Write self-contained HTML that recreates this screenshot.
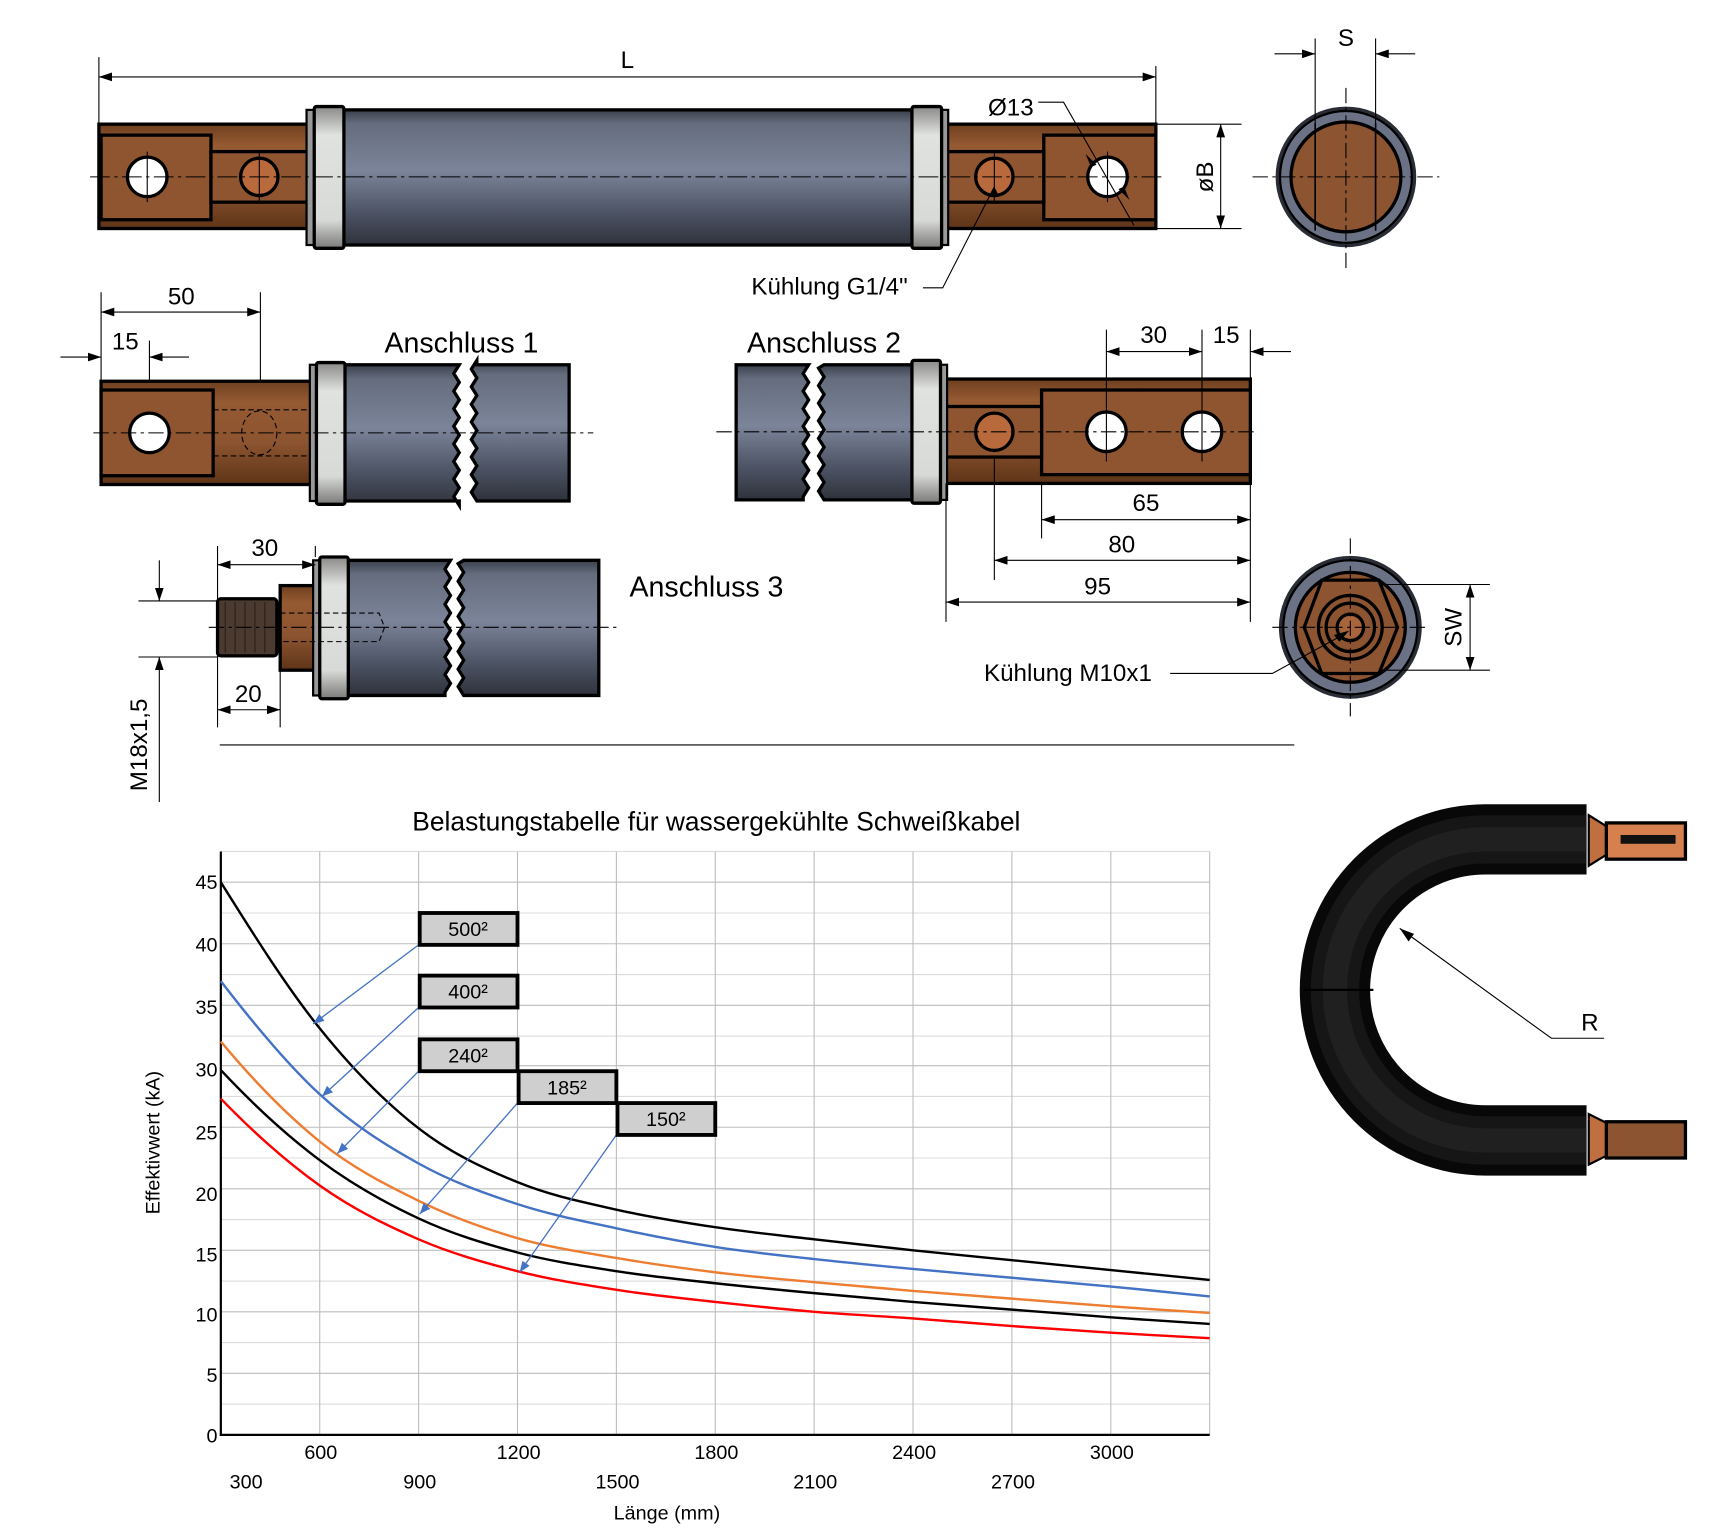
<!DOCTYPE html>
<html><head><meta charset="utf-8"><style>
html,body{margin:0;padding:0;background:#fff;}
svg{display:block;}
text{font-family:"Liberation Sans",sans-serif;}
</style></head><body>
<svg width="1714" height="1531" viewBox="0 0 1560 1393.5" preserveAspectRatio="none" xmlns="http://www.w3.org/2000/svg">
<defs>
<linearGradient id="tube" x1="0" y1="0" x2="0" y2="1">
<stop offset="0" stop-color="#3a3f4a"/><stop offset="0.1" stop-color="#646c7d"/><stop offset="0.45" stop-color="#7c849a"/><stop offset="0.75" stop-color="#4e5566"/><stop offset="1" stop-color="#2e323b"/></linearGradient>
<linearGradient id="cu" x1="0" y1="0" x2="0" y2="1">
<stop offset="0" stop-color="#6e3f1f"/><stop offset="0.2" stop-color="#955a32"/><stop offset="0.6" stop-color="#8c5430"/><stop offset="1" stop-color="#5e3418"/></linearGradient>
<linearGradient id="fer" x1="0" y1="0" x2="0" y2="1">
<stop offset="0" stop-color="#8a8a88"/><stop offset="0.2" stop-color="#e0e2e0"/><stop offset="0.8" stop-color="#d8dad8"/><stop offset="1" stop-color="#7a7a78"/></linearGradient>
<marker id="ar" viewBox="0 0 12 8" refX="12" refY="4" markerWidth="12" markerHeight="8" orient="auto-start-reverse" markerUnits="userSpaceOnUse"><path d="M0,0L12,4L0,8z" fill="#000"/></marker>
<marker id="ab" viewBox="0 0 10 8" refX="10" refY="4" markerWidth="10" markerHeight="8" orient="auto" markerUnits="userSpaceOnUse"><path d="M0,0L10,4L0,8z" fill="#4472c4"/></marker>
</defs>

<!-- ===== Top full cable ===== -->
<g stroke="#000" stroke-width="1">
<line x1="90" y1="52" x2="90" y2="113"/><line x1="1052" y1="60" x2="1052" y2="113"/>
<line x1="90" y1="70" x2="1052" y2="70" marker-start="url(#ar)" marker-end="url(#ar)"/>
</g>
<text x="571" y="62" font-size="22" text-anchor="middle">L</text>
<rect x="90" y="113" width="192" height="95" fill="url(#cu)" stroke="#000" stroke-width="3"/>
<rect x="92" y="123" width="100" height="77" fill="#8f5531" stroke="#000" stroke-width="3"/>
<rect x="192" y="138" width="90" height="46" fill="#8f5531" stroke="#000" stroke-width="3"/>
<circle cx="134" cy="161" r="18" fill="#fff" stroke="#000" stroke-width="3"/>
<circle cx="236" cy="161" r="17" fill="#b86a3c" stroke="#000" stroke-width="3"/>
<rect x="860" y="113" width="192" height="95" fill="url(#cu)" stroke="#000" stroke-width="3"/>
<rect x="950" y="123" width="102" height="77" fill="#8f5531" stroke="#000" stroke-width="3"/>
<rect x="860" y="138" width="90" height="46" fill="#8f5531" stroke="#000" stroke-width="3"/>
<circle cx="1008" cy="161" r="18" fill="#fff" stroke="#000" stroke-width="3"/>
<circle cx="905" cy="161" r="17" fill="#b86a3c" stroke="#000" stroke-width="3"/>
<rect x="310" y="100" width="522" height="123" fill="url(#tube)" stroke="#000" stroke-width="3"/>
<rect x="279" y="100" width="8" height="123" fill="#999" stroke="#000" stroke-width="2"/>
<rect x="286" y="97" width="27" height="129" rx="2" fill="url(#fer)" stroke="#000" stroke-width="3"/>
<rect x="855" y="100" width="8" height="123" fill="#999" stroke="#000" stroke-width="2"/>
<rect x="830" y="97" width="27" height="129" rx="2" fill="url(#fer)" stroke="#000" stroke-width="3"/>
<g stroke="#000" stroke-width="1" stroke-dasharray="18,4,3,4">
<line x1="82" y1="161" x2="1060" y2="161"/>
</g>
<g stroke="#000" stroke-width="1">
<line x1="134" y1="138" x2="134" y2="184"/><line x1="236" y1="138" x2="236" y2="184"/>
<line x1="905" y1="138" x2="905" y2="184"/><line x1="1008" y1="138" x2="1008" y2="184"/>
<polyline points="945,93 968,93 1032,205" fill="none"/>
<polyline points="840,262 858,262 905,170" fill="none"/>
</g>
<path d="M988,140 L998,150 L993,152z M1028,182 L1018,172 L1023,170z M905,170 l-6,10 l9,-4z" fill="#000"/>
<text x="920" y="105" font-size="22" text-anchor="middle">Ø13</text>
<text x="755" y="268" font-size="22" text-anchor="middle">Kühlung G1/4"</text>
<g stroke="#000" stroke-width="1">
<line x1="1052" y1="113" x2="1130" y2="113"/><line x1="1052" y1="208" x2="1130" y2="208"/>
<line x1="1111" y1="113" x2="1111" y2="208" marker-start="url(#ar)" marker-end="url(#ar)"/>
</g>
<text x="1104" y="161" font-size="22" text-anchor="middle" transform="rotate(-90 1104 161)">øB</text>
<circle cx="1225" cy="161" r="64" fill="#2a2d35"/>
<circle cx="1225" cy="161" r="60" fill="#6b7286" stroke="#000" stroke-width="2"/>
<circle cx="1225" cy="161" r="50" fill="#8c5430" stroke="#000" stroke-width="3"/>
<g stroke="#000" stroke-width="1.5"><line x1="1197" y1="112" x2="1197" y2="210"/><line x1="1252" y1="112" x2="1252" y2="210"/></g>
<g stroke="#000" stroke-width="1" stroke-dasharray="14,4,3,4"><line x1="1140" y1="161" x2="1310" y2="161"/><line x1="1225" y1="80" x2="1225" y2="245"/></g>
<g stroke="#000" stroke-width="1">
<line x1="1197" y1="35" x2="1197" y2="112"/><line x1="1252" y1="35" x2="1252" y2="112"/>
<line x1="1160" y1="49" x2="1197" y2="49" marker-end="url(#ar)"/><line x1="1288" y1="49" x2="1252" y2="49" marker-end="url(#ar)"/>
</g>
<text x="1225" y="42" font-size="22" text-anchor="middle">S</text>

<!-- ===== Anschluss 1 ===== -->
<g stroke="#000" stroke-width="1">
<line x1="92" y1="266" x2="92" y2="347"/><line x1="237" y1="266" x2="237" y2="420"/><line x1="136" y1="310" x2="136" y2="420"/>
<line x1="92" y1="284" x2="237" y2="284" marker-start="url(#ar)" marker-end="url(#ar)"/>
<line x1="55" y1="325" x2="92" y2="325" marker-end="url(#ar)"/><line x1="172" y1="325" x2="136" y2="325" marker-end="url(#ar)"/>
</g>
<text x="165" y="277" font-size="22" text-anchor="middle">50</text>
<text x="114" y="318" font-size="22" text-anchor="middle">15</text>
<text x="420" y="321" font-size="26" text-anchor="middle">Anschluss 1</text>
<rect x="92" y="347" width="192" height="94" fill="url(#cu)" stroke="#000" stroke-width="3"/>
<rect x="92" y="355" width="102" height="78" fill="#8f5531" stroke="#000" stroke-width="3"/>
<circle cx="136" cy="394" r="18" fill="#fff" stroke="#000" stroke-width="3"/>
<g stroke="#000" stroke-width="1" stroke-dasharray="5,3" fill="none"><line x1="194" y1="373" x2="284" y2="373"/><line x1="194" y1="415" x2="284" y2="415"/><ellipse cx="236" cy="394" rx="16" ry="20"/></g>
<path d="M312,332 H418 l-5,8 5,8 -5,8 5,8 -5,8 5,8 -5,8 5,8 -5,8 5,8 -5,8 5,8 -5,8 5,8 -5,8 5,8 V456 H312z" fill="url(#tube)" stroke="#000" stroke-width="3"/>
<path d="M434,332 H518 V456 H434 l-5,-8 5,-8 -5,-8 5,-8 -5,-8 5,-8 -5,-8 5,-8 -5,-8 5,-8 -5,-8 5,-8 -5,-8 5,-8 -5,-8 5,-8z" fill="url(#tube)" stroke="#000" stroke-width="3"/>
<rect x="282" y="332" width="8" height="124" fill="#999" stroke="#000" stroke-width="2"/>
<rect x="288" y="330" width="26" height="129" rx="2" fill="url(#fer)" stroke="#000" stroke-width="3"/>
<g stroke="#000" stroke-width="1" stroke-dasharray="14,4,3,4"><line x1="85" y1="394" x2="540" y2="394"/></g>

<!-- ===== Anschluss 2 ===== -->
<text x="750" y="321" font-size="26" text-anchor="middle">Anschluss 2</text>
<path d="M670,332 H736 l-5,8 5,8 -5,8 5,8 -5,8 5,8 -5,8 5,8 -5,8 5,8 -5,8 5,8 -5,8 5,8 -5,8 V455 H670z" fill="url(#tube)" stroke="#000" stroke-width="3"/>
<path d="M750,332 H832 V455 H750 l-5,-8 5,-8 -5,-8 5,-8 -5,-8 5,-8 -5,-8 5,-8 -5,-8 5,-8 -5,-8 5,-8 -5,-8 5,-8 -5,-8 z" fill="url(#tube)" stroke="#000" stroke-width="3"/>
<rect x="860" y="345" width="278" height="95" fill="url(#cu)" stroke="#000" stroke-width="3"/>
<rect x="948" y="355" width="190" height="77" fill="#8f5531" stroke="#000" stroke-width="3"/>
<rect x="860" y="370" width="88" height="46" fill="#8f5531" stroke="#000" stroke-width="3"/>
<circle cx="1007" cy="393" r="18" fill="#fff" stroke="#000" stroke-width="3"/>
<circle cx="1094" cy="393" r="18" fill="#fff" stroke="#000" stroke-width="3"/>
<circle cx="905" cy="393" r="17" fill="#b86a3c" stroke="#000" stroke-width="3"/>
<rect x="854" y="332" width="8" height="123" fill="#999" stroke="#000" stroke-width="2"/>
<rect x="830" y="328" width="26" height="130" rx="2" fill="url(#fer)" stroke="#000" stroke-width="3"/>
<g stroke="#000" stroke-width="1" stroke-dasharray="14,4,3,4"><line x1="652" y1="393" x2="1145" y2="393"/></g>
<g stroke="#000" stroke-width="1">
<line x1="1007" y1="300" x2="1007" y2="420"/><line x1="1094" y1="300" x2="1094" y2="420"/><line x1="1138" y1="300" x2="1138" y2="345"/>
<line x1="1007" y1="320" x2="1094" y2="320" marker-start="url(#ar)" marker-end="url(#ar)"/>
<line x1="1175" y1="320" x2="1138" y2="320" marker-end="url(#ar)"/>
<line x1="948" y1="440" x2="948" y2="490"/><line x1="905" y1="415" x2="905" y2="528"/><line x1="861" y1="440" x2="861" y2="566"/><line x1="1138" y1="440" x2="1138" y2="566"/>
<line x1="948" y1="473" x2="1138" y2="473" marker-start="url(#ar)" marker-end="url(#ar)"/>
<line x1="905" y1="510" x2="1138" y2="510" marker-start="url(#ar)" marker-end="url(#ar)"/>
<line x1="861" y1="548" x2="1138" y2="548" marker-start="url(#ar)" marker-end="url(#ar)"/>
</g>
<text x="1050" y="312" font-size="22" text-anchor="middle">30</text>
<text x="1116" y="312" font-size="22" text-anchor="middle">15</text>
<text x="1043" y="465" font-size="22" text-anchor="middle">65</text>
<text x="1021" y="503" font-size="22" text-anchor="middle">80</text>
<text x="999" y="541" font-size="22" text-anchor="middle">95</text>

<circle cx="1229" cy="571" r="65" fill="#2a2d35"/>
<circle cx="1229" cy="571" r="61" fill="#6b7286" stroke="#000" stroke-width="2"/>
<circle cx="1229" cy="571" r="50" fill="#8c5430" stroke="#000" stroke-width="3"/>
<polygon points="1187,571 1203,528 1255,528 1272,571 1255,613 1203,613" fill="#8c5430" stroke="#000" stroke-width="3"/>
<circle cx="1229" cy="571" r="29" fill="none" stroke="#000" stroke-width="3"/>
<circle cx="1229" cy="571" r="22" fill="none" stroke="#000" stroke-width="3"/>
<circle cx="1229" cy="571" r="12" fill="#a8643a" stroke="#000" stroke-width="3"/>
<g stroke="#000" stroke-width="1" stroke-dasharray="14,4,3,4"><line x1="1158" y1="571" x2="1300" y2="571"/><line x1="1229" y1="490" x2="1229" y2="652"/></g>
<g stroke="#000" stroke-width="1">
<line x1="1255" y1="532" x2="1356" y2="532"/><line x1="1255" y1="610" x2="1356" y2="610"/>
<line x1="1338" y1="532" x2="1338" y2="610" marker-start="url(#ar)" marker-end="url(#ar)"/>
<polyline points="1065,613 1158,613 1222,578" fill="none"/>
</g>
<path d="M1228,574 l-14,4 l5,6z" fill="#000"/>
<text x="1330" y="571" font-size="22" text-anchor="middle" transform="rotate(-90 1330 571)">SW</text>
<text x="972" y="620" font-size="22" text-anchor="middle">Kühlung M10x1</text>

<!-- ===== Anschluss 3 ===== -->
<text x="643" y="543" font-size="26" text-anchor="middle">Anschluss 3</text>
<rect x="198" y="545" width="54" height="52" rx="3" fill="#4a3a30" stroke="#000" stroke-width="3"/>
<g stroke="#2a1f18" stroke-width="1"><line x1="205" y1="548" x2="205" y2="594"/><line x1="214" y1="548" x2="214" y2="594"/><line x1="223" y1="548" x2="223" y2="594"/><line x1="232" y1="548" x2="232" y2="594"/><line x1="241" y1="548" x2="241" y2="594"/></g>
<rect x="255" y="533" width="32" height="77" fill="url(#cu)" stroke="#000" stroke-width="3"/>
<path d="M316,510 H410 l-5,8 5,8 -5,8 5,8 -5,8 5,8 -5,8 5,8 -5,8 5,8 -5,8 5,8 -5,8 5,8 -5,8 V633 H316z" fill="url(#tube)" stroke="#000" stroke-width="3"/>
<path d="M422,510 H545 V633 H422 l-5,-8 5,-8 -5,-8 5,-8 -5,-8 5,-8 -5,-8 5,-8 -5,-8 5,-8 -5,-8 5,-8 -5,-8 5,-8 -5,-8z" fill="url(#tube)" stroke="#000" stroke-width="3"/>
<rect x="285" y="510" width="8" height="123" fill="#999" stroke="#000" stroke-width="2"/>
<rect x="291" y="507" width="26" height="129" rx="2" fill="url(#fer)" stroke="#000" stroke-width="3"/>
<g stroke="#000" stroke-width="1" stroke-dasharray="5,3" fill="none"><polyline points="255,558 345,558 350,571 345,584 255,584"/></g>
<g stroke="#000" stroke-width="1" stroke-dasharray="14,4,3,4"><line x1="190" y1="571" x2="565" y2="571"/></g>
<g stroke="#000" stroke-width="1">
<line x1="198" y1="497" x2="198" y2="662"/><line x1="287" y1="497" x2="287" y2="507"/><line x1="255" y1="610" x2="255" y2="662"/>
<line x1="198" y1="514" x2="287" y2="514" marker-start="url(#ar)" marker-end="url(#ar)"/>
<line x1="198" y1="646" x2="255" y2="646" marker-start="url(#ar)" marker-end="url(#ar)"/>
<line x1="126" y1="547" x2="198" y2="547"/><line x1="126" y1="598" x2="198" y2="598"/>
<line x1="145" y1="510" x2="145" y2="547" marker-end="url(#ar)"/><line x1="145" y1="730" x2="145" y2="598" marker-end="url(#ar)"/>
<line x1="200" y1="678" x2="1178" y2="678"/>
</g>
<text x="241" y="506" font-size="22" text-anchor="middle">30</text>
<text x="226" y="639" font-size="22" text-anchor="middle">20</text>
<text x="134" y="678" font-size="22" text-anchor="middle" transform="rotate(-90 134 678)">M18x1,5</text>

<!-- ===== Chart ===== -->
<text x="652" y="756" font-size="24" text-anchor="middle">Belastungstabelle für wassergekühlte Schweißkabel</text>
<g stroke="#dcdcdc" stroke-width="1">
<line x1="201" y1="1278" x2="1101" y2="1278"/><line x1="201" y1="1222" x2="1101" y2="1222"/><line x1="201" y1="1166" x2="1101" y2="1166"/><line x1="201" y1="1110" x2="1101" y2="1110"/><line x1="201" y1="1054" x2="1101" y2="1054"/><line x1="201" y1="998" x2="1101" y2="998"/><line x1="201" y1="943" x2="1101" y2="943"/><line x1="201" y1="887" x2="1101" y2="887"/><line x1="201" y1="831" x2="1101" y2="831"/><line x1="201" y1="775" x2="1101" y2="775"/>
</g>
<g stroke="#bdbdbd" stroke-width="1">
<line x1="201" y1="1250" x2="1101" y2="1250"/><line x1="201" y1="1194" x2="1101" y2="1194"/><line x1="201" y1="1138" x2="1101" y2="1138"/><line x1="201" y1="1082" x2="1101" y2="1082"/><line x1="201" y1="1026" x2="1101" y2="1026"/><line x1="201" y1="970" x2="1101" y2="970"/><line x1="201" y1="915" x2="1101" y2="915"/><line x1="201" y1="859" x2="1101" y2="859"/><line x1="201" y1="803" x2="1101" y2="803"/>
<line x1="291" y1="775" x2="291" y2="1306"/><line x1="381" y1="775" x2="381" y2="1306"/><line x1="471" y1="775" x2="471" y2="1306"/><line x1="561" y1="775" x2="561" y2="1306"/><line x1="651" y1="775" x2="651" y2="1306"/><line x1="741" y1="775" x2="741" y2="1306"/><line x1="831" y1="775" x2="831" y2="1306"/><line x1="921" y1="775" x2="921" y2="1306"/><line x1="1011" y1="775" x2="1011" y2="1306"/><line x1="1101" y1="775" x2="1101" y2="1306"/>
</g>
<g stroke="#000" stroke-width="2"><line x1="201" y1="775" x2="201" y2="1307"/><line x1="200" y1="1306" x2="1101" y2="1306"/></g>
<g fill="none" stroke-width="2.2" stroke-linejoin="round">
<path stroke="#000" d="M201,803 C231,851 261,898.7 291,936 C321,973.3 351,1003.7 381,1027 C411,1050.3 441,1063.7 471,1076 C501,1088.3 531,1094.2 561,1101 C591,1107.8 621,1112.5 651,1117 C681,1121.5 711,1124.5 741,1128 C771,1131.5 801,1134.8 831,1138 C861,1141.2 891,1144 921,1147 C951,1150 981,1153 1011,1156 C1041,1159 1086,1163.5 1101,1165"/>
<path stroke="#4472c4" d="M201,893 C231,932 261,968.3 291,996 C321,1023.7 351,1042.3 381,1059 C411,1075.7 441,1086.2 471,1096 C501,1105.8 531,1111.5 561,1118 C591,1124.5 621,1130.3 651,1135 C681,1139.7 711,1142.7 741,1146 C771,1149.3 801,1152.2 831,1155 C861,1157.8 891,1160.3 921,1163 C951,1165.7 981,1168.2 1011,1171 C1041,1173.8 1086,1178.5 1101,1180"/>
<path stroke="#ed7d31" d="M201,948 C231,984 261,1014.8 291,1039 C321,1063.2 351,1078.3 381,1093 C411,1107.7 441,1118.3 471,1127 C501,1135.7 531,1139.8 561,1145 C591,1150.2 621,1154.3 651,1158 C681,1161.7 711,1164.2 741,1167 C771,1169.8 801,1172.5 831,1175 C861,1177.5 891,1179.7 921,1182 C951,1184.3 981,1186.8 1011,1189 C1041,1191.2 1086,1194 1101,1195"/>
<path stroke="#000" d="M201,974 C231,1006 261,1033.5 291,1056 C321,1078.5 351,1095 381,1109 C411,1123 441,1132 471,1140 C501,1148 531,1152.3 561,1157 C591,1161.7 621,1164.7 651,1168 C681,1171.3 711,1174.2 741,1177 C771,1179.8 801,1182.5 831,1185 C861,1187.5 891,1189.7 921,1192 C951,1194.3 981,1196.8 1011,1199 C1041,1201.2 1086,1204 1101,1205"/>
<path stroke="#ff0000" d="M201,1000 C231,1031 261,1057.7 291,1079 C321,1100.3 351,1115 381,1128 C411,1141 441,1149.3 471,1157 C501,1164.7 531,1169.3 561,1174 C591,1178.7 621,1181.7 651,1185 C681,1188.3 711,1191.5 741,1194 C771,1196.5 801,1197.8 831,1200 C861,1202.2 891,1204.8 921,1207 C951,1209.2 981,1211.2 1011,1213 C1041,1214.8 1086,1217.2 1101,1218"/>
</g>
<g stroke="#4472c4" stroke-width="1.2">
<line x1="381" y1="860" x2="285" y2="932" marker-end="url(#ab)"/>
<line x1="381" y1="917" x2="293" y2="998" marker-end="url(#ab)"/>
<line x1="381" y1="975" x2="307" y2="1050" marker-end="url(#ab)"/>
<line x1="471" y1="1004" x2="382" y2="1105" marker-end="url(#ab)"/>
<line x1="561" y1="1033" x2="473" y2="1158" marker-end="url(#ab)"/>
</g>
<g fill="#d0cfd0" stroke="#000" stroke-width="3.5">
<rect x="382" y="831" width="89" height="29"/><rect x="382" y="888" width="89" height="29"/><rect x="382" y="946" width="89" height="29"/><rect x="472" y="975" width="89" height="29"/><rect x="562" y="1004" width="89" height="29"/>
</g>
<g font-size="18" text-anchor="middle">
<text x="426" y="852">500²</text><text x="426" y="909">400²</text><text x="426" y="967">240²</text><text x="516" y="996">185²</text><text x="606" y="1025">150²</text>
</g>
<g font-size="18" text-anchor="end">
<text x="198" y="809">45</text><text x="198" y="866">40</text><text x="198" y="923">35</text><text x="198" y="980">30</text><text x="198" y="1037">25</text><text x="198" y="1093">20</text><text x="198" y="1148">15</text><text x="198" y="1203">10</text><text x="198" y="1258">5</text><text x="198" y="1313">0</text>
</g>
<g font-size="18" text-anchor="middle">
<text x="292" y="1328">600</text><text x="472" y="1328">1200</text><text x="652" y="1328">1800</text><text x="832" y="1328">2400</text><text x="1012" y="1328">3000</text>
<text x="224" y="1355">300</text><text x="382" y="1355">900</text><text x="562" y="1355">1500</text><text x="742" y="1355">2100</text><text x="922" y="1355">2700</text>
<text x="607" y="1383">Länge (mm)</text>
</g>
<text x="145" y="1040" font-size="18" text-anchor="middle" transform="rotate(-90 145 1040)">Effektivwert (kA)</text>

<!-- ===== U cable ===== -->
<path d="M1444,764 H1352 A137,137 0 0 0 1352,1038 H1444" fill="none" stroke="#080808" stroke-width="64"/>
<path d="M1444,764 H1352 A137,137 0 0 0 1352,1038 H1444" fill="none" stroke="#161616" stroke-width="44"/>
<path d="M1444,764 H1352 A137,137 0 0 0 1352,1038 H1444" fill="none" stroke="#202020" stroke-width="22"/>
<line x1="1186" y1="901" x2="1250" y2="901" stroke="#000" stroke-width="2"/>
<polygon points="1446,742 1462,752 1462,778 1446,788" fill="#c07040" stroke="#000" stroke-width="2"/>
<rect x="1462" y="749" width="72" height="33" fill="#d6804f" stroke="#000" stroke-width="3"/>
<rect x="1475" y="760" width="50" height="8" fill="#111"/>
<polygon points="1446,1014 1462,1022 1462,1052 1446,1060" fill="#c07040" stroke="#000" stroke-width="2"/>
<rect x="1462" y="1021" width="72" height="33" fill="#8c5430" stroke="#000" stroke-width="3"/>
<polyline points="1274,845 1412,945 1460,945" fill="none" stroke="#000" stroke-width="1"/>
<path d="M1274,845 l8,12 l5,-7z" fill="#000"/>
<text x="1447" y="938" font-size="22" text-anchor="middle">R</text>
</svg>
</body></html>
